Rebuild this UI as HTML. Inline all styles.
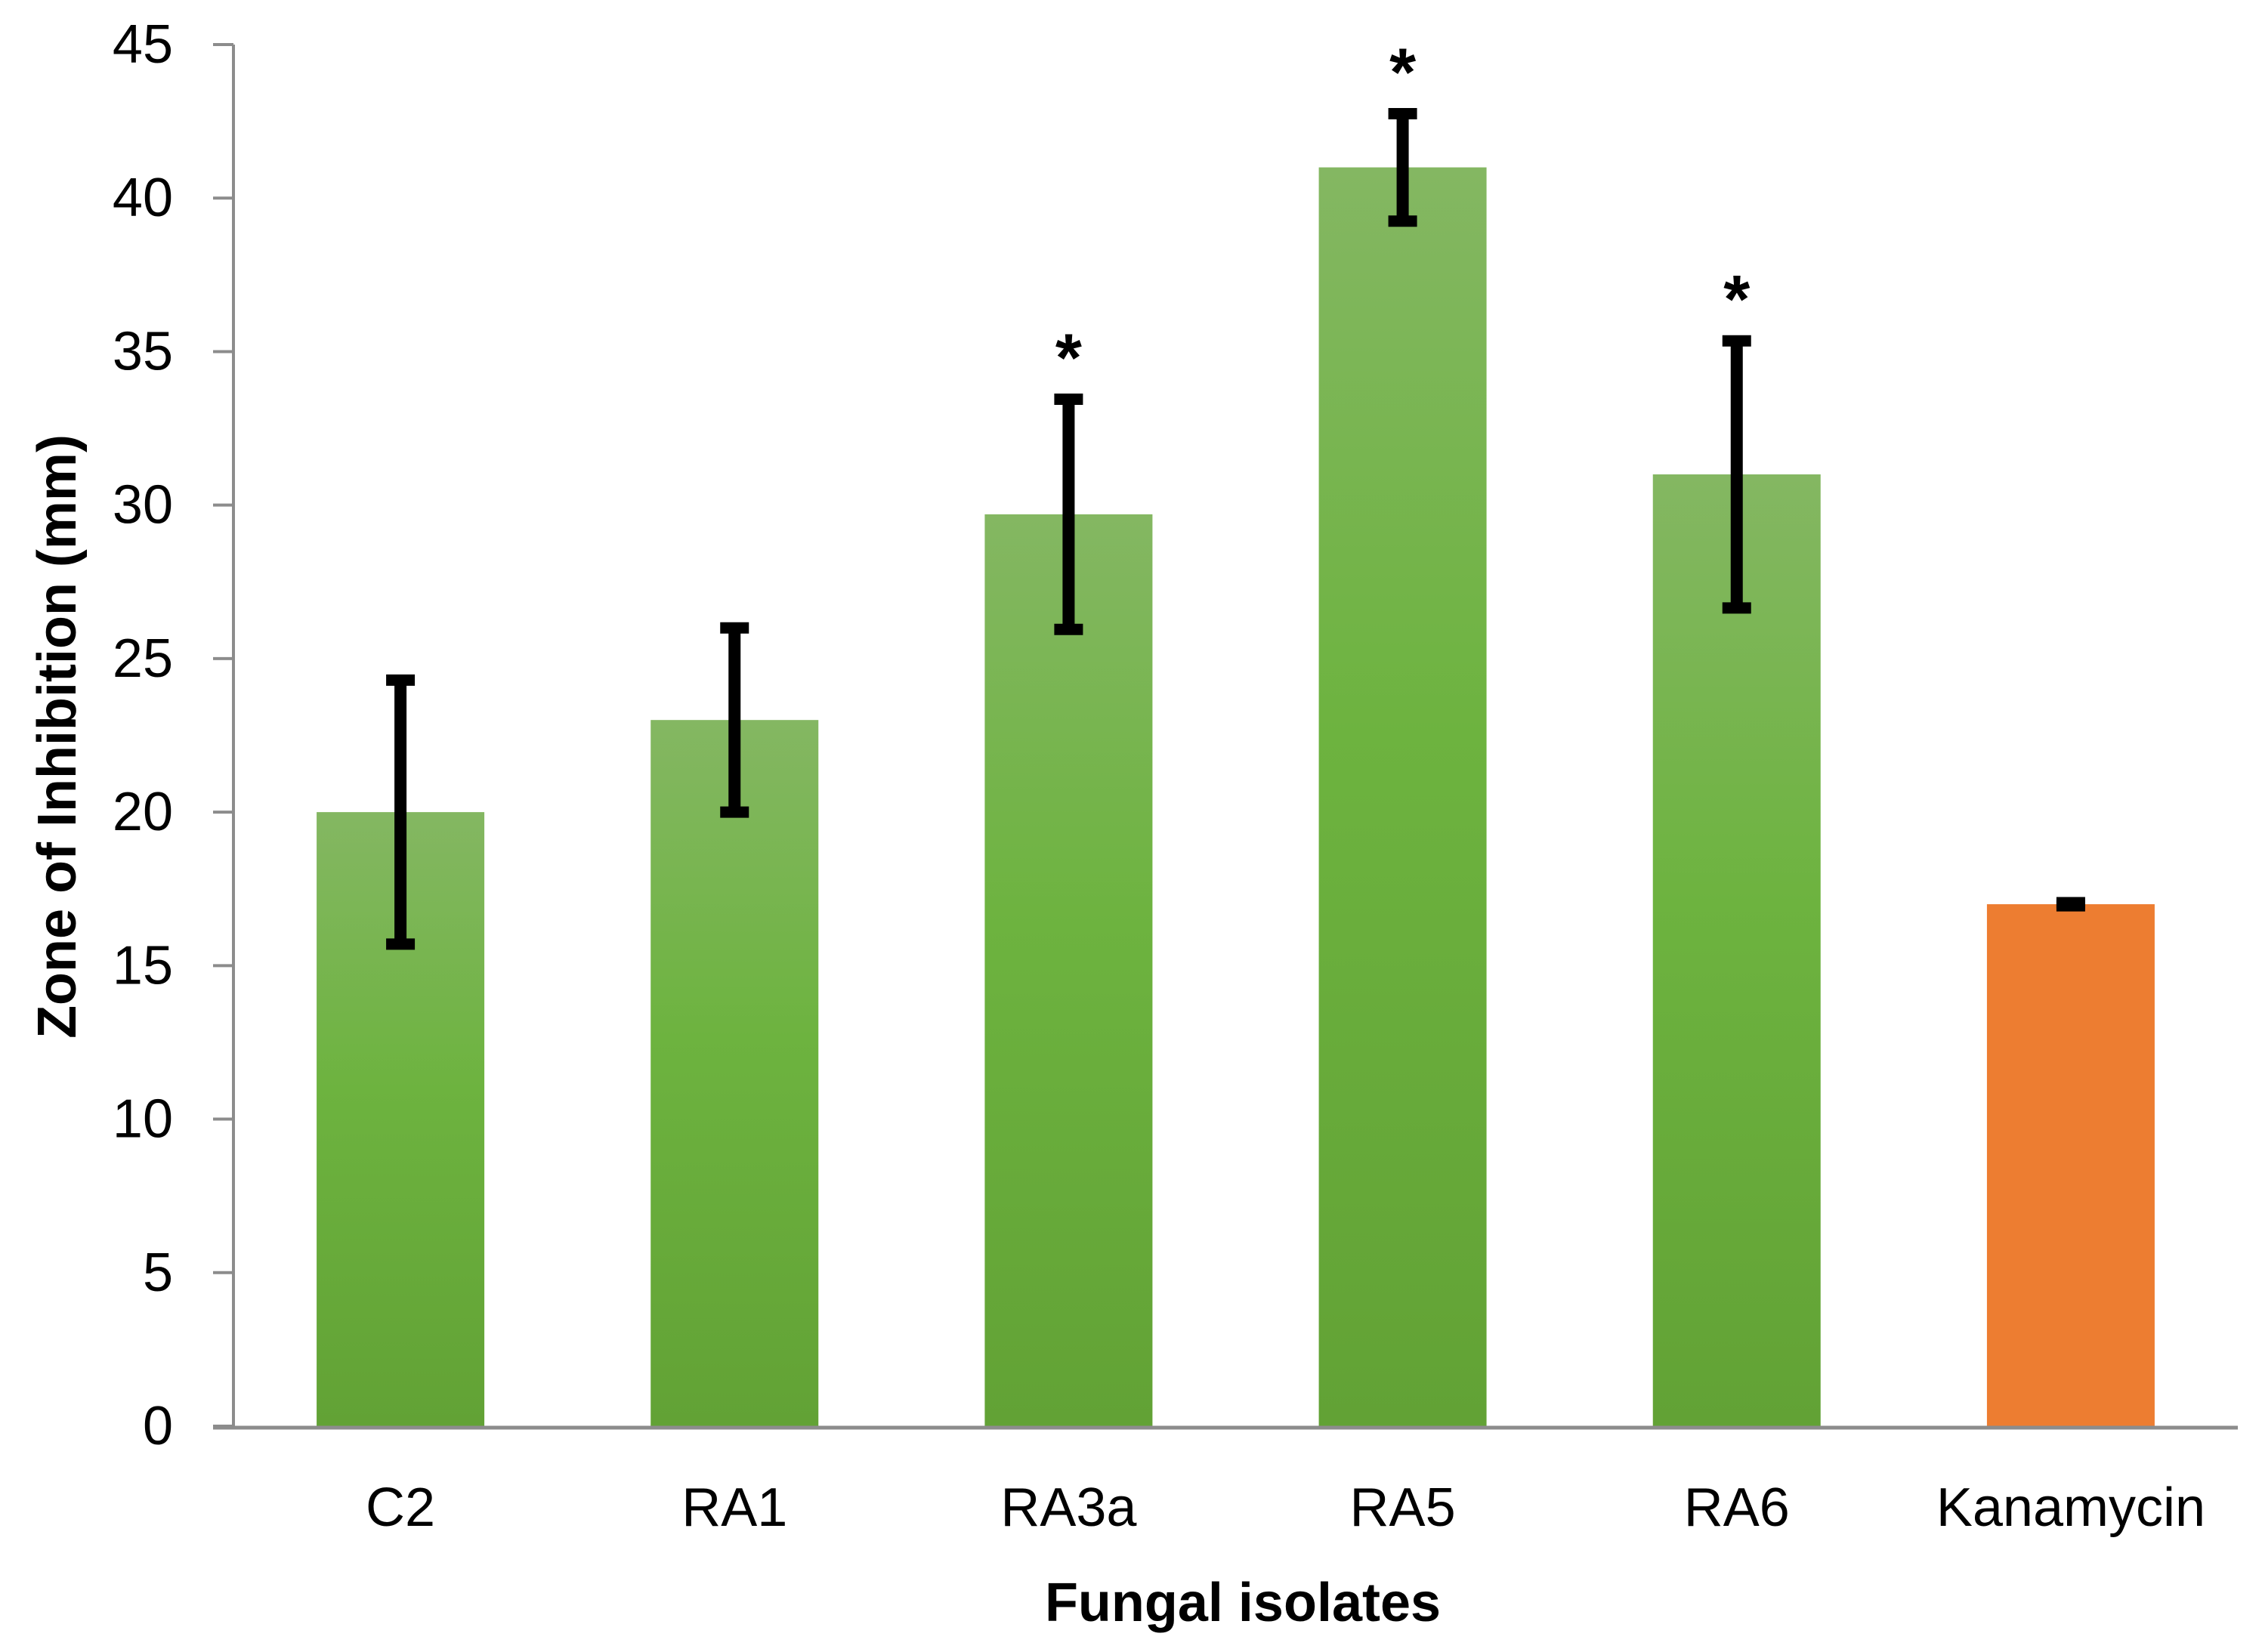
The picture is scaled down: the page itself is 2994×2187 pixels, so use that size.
<!DOCTYPE html>
<html><head><meta charset="utf-8"><style>
html,body{margin:0;padding:0;background:#fff;}
svg{display:block;}
text{font-family:"Liberation Sans",sans-serif;}
</style></head><body>
<svg id="chart" width="2994" height="2187" viewBox="0 0 2994 2187" xmlns="http://www.w3.org/2000/svg">
<defs>
<linearGradient id="gg" x1="0" y1="0" x2="0" y2="1">
<stop offset="0" stop-color="#84b762"/><stop offset="0.45" stop-color="#6db33f"/><stop offset="1" stop-color="#62a235"/>
</linearGradient>
</defs>
<g id="plot"></g>
<text x="1645" y="2146" font-size="72" font-weight="bold" text-anchor="middle">Fungal isolates</text>
<text transform="translate(76,975) rotate(-90)" font-size="72" font-weight="bold" text-anchor="middle" dominant-baseline="central">Zone of Inhibition (mm)</text>
</svg>
<script>
const categories = ["C2","RA1","RA3a","RA5","RA6","Kanamycin"];
const values = [20, 23, 29.7, 41, 31, 17];
const errors = [4.3, 3, 3.75, 1.75, 4.35, 0.05];
const significant = [false, false, true, true, true, false];
const yTicks = [0,5,10,15,20,25,30,35,40,45];

const NS="http://www.w3.org/2000/svg";
const X0=309, X1=2962, Y0=1888, YTOP=59, YMAX=45;
const band=(X1-X0)/categories.length, barW=222;
const y=v=>Y0-(v/YMAX)*(Y0-YTOP);
const xc=i=>X0+band*(i+0.5);
const g=document.getElementById('plot');
function mk(tag,attrs){const e=document.createElementNS(NS,tag);for(const k in attrs)e.setAttribute(k,attrs[k]);g.appendChild(e);return e;}

categories.forEach((c,i)=>{
  const r=mk('rect',{x:xc(i)-barW/2,y:y(values[i]),width:barW,height:Y0-y(values[i]),fill:c==="Kanamycin"?"#ed7d31":"url(#gg)"});
  
  
});
const ya=mk('line',{x1:X0,y1:YTOP,x2:X0,y2:Y0+2,stroke:"#8c8c8c","stroke-width":4});


const xa=mk('line',{x1:X0-27,y1:Y0+2,x2:X1,y2:Y0+2,stroke:"#8c8c8c","stroke-width":5});


yTicks.forEach(t=>{
  const tk=mk('line',{x1:X0-27,y1:y(t),x2:X0,y2:y(t),stroke:"#8c8c8c","stroke-width":4});
  
  
  const lb=mk('text',{x:229,y:y(t),"font-size":72,"text-anchor":"end","dominant-baseline":"central"});
  lb.textContent=t;
  
  
});
categories.forEach((c,i)=>{
  const lb=mk('text',{x:xc(i),y:1996,"font-size":72,"text-anchor":"middle","dominant-baseline":"central"});
  lb.textContent=c;
  
  
});
categories.forEach((c,i)=>{
  const hi=y(values[i]+errors[i]), lo=y(values[i]-errors[i]), cx=xc(i);
  const eg=document.createElementNS(NS,'g');g.appendChild(eg);
  
  
  const add=(a)=>{const e=document.createElementNS(NS,'line');for(const k in a)e.setAttribute(k,a[k]);eg.appendChild(e);};
  add({x1:cx,y1:hi,x2:cx,y2:lo,stroke:"#000","stroke-width":16});
  add({x1:cx-19,y1:hi,x2:cx+19,y2:hi,stroke:"#000","stroke-width":15});
  add({x1:cx-19,y1:lo,x2:cx+19,y2:lo,stroke:"#000","stroke-width":15});
  if(significant[i]){
    const s=mk('text',{x:cx,y:hi-24,"font-size":90,"text-anchor":"middle","font-weight":"bold"});
    s.textContent="*";
    
    
  }
});
</script>
</body></html>
